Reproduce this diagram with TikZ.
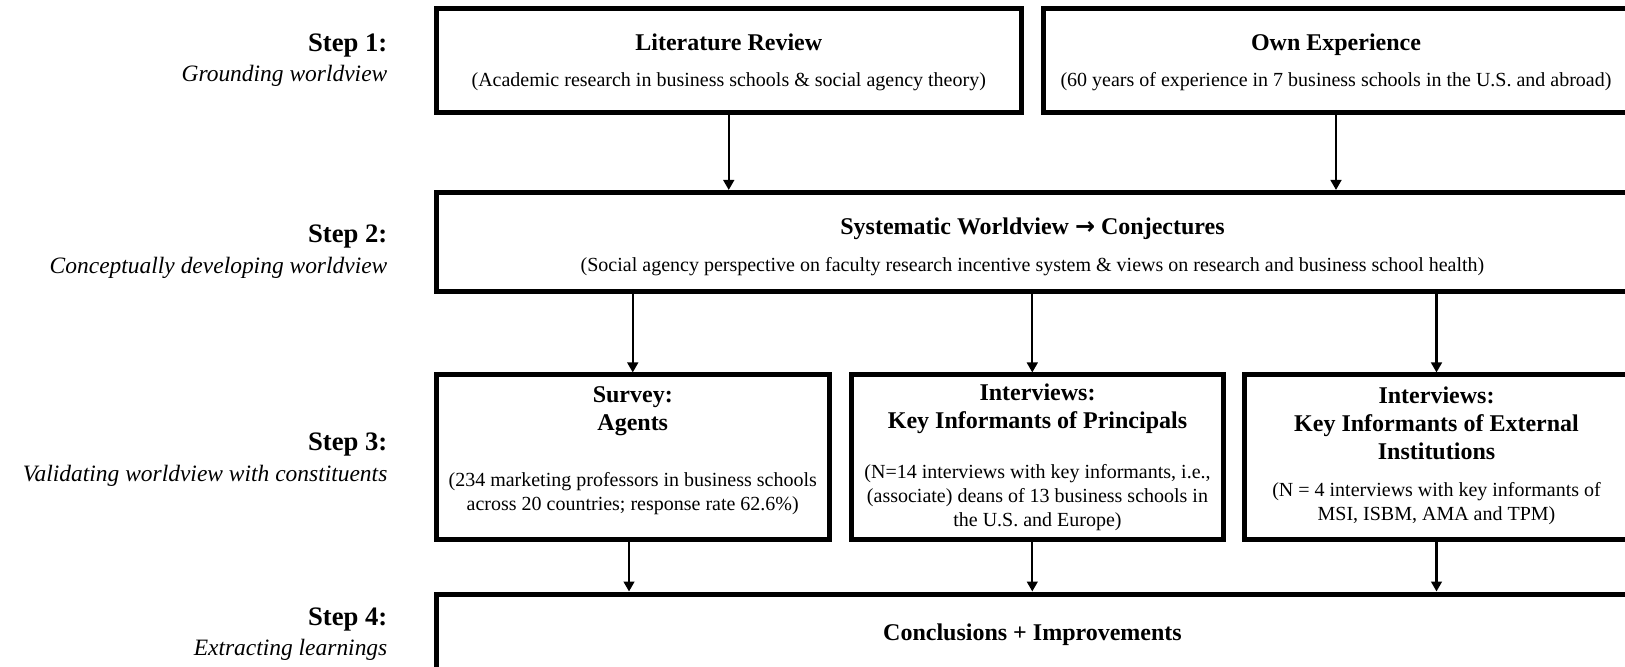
\documentclass[tikz,border=0pt]{standalone}
\usepackage{fontspec}
\setmainfont{Liberation Serif}
\newfontfamily\arrowfont{DejaVu Sans}
\usetikzlibrary{arrows.meta}
\tikzset{
  stepbox/.style={draw, line width=3.75pt, inner sep=0pt, rectangle},
  arr/.style={line width=1.75pt, -{Triangle[length=7.5pt,width=8pt]}},
  ttl/.style={inner sep=0pt, align=center, font={\fontsize{18}{21}\selectfont\bfseries}},
  sub/.style={inner sep=0pt, align=center, font={\fontsize{15}{18}\selectfont}},
  steplbl/.style={inner sep=0pt, anchor=east, font={\fontsize{20}{24}\selectfont\bfseries}},
  stepdesc/.style={inner sep=0pt, anchor=east, font={\fontsize{17.6}{21}\selectfont\itshape}},
}
\begin{document}
\begin{tikzpicture}[x=0.75pt,y=-0.75pt]
\useasboundingbox (0,0) rectangle (1625,667);
\clip (0,0) rectangle (1625,667);
\fill[white] (0,0) rectangle (1625,667);

% step labels
\node[steplbl]  (s1)  at (387.6,45.6)  {Step 1:};
\node[stepdesc] (s1d) at (387.6,75.6)  {Grounding worldview};
\node[steplbl]  (s2)  at (387.6,236.3) {Step 2:};
\node[stepdesc] (s2d) at (387.6,267.4) {Conceptually developing worldview};
\node[steplbl]  (s3)  at (387.6,444.6) {Step 3:};
\node[stepdesc] (s3d) at (387.6,475.7) {Validating worldview with constituents};
\node[steplbl]  (s4)  at (387.6,619.7) {Step 4:};
\node[stepdesc] (s4d) at (387.6,649.8) {Extracting learnings};

% boxes
\node[stepbox, minimum width=438.4pt, minimum height=77.5pt]  (lit)  at (728.75,60.35) {};
\node[stepbox, minimum width=438.75pt, minimum height=77.5pt] (own)  at (1336,60.35) {};
\node[stepbox, minimum width=894pt, minimum height=73.9pt]    (sys)  at (1032.5,241.75) {};
\node[stepbox, minimum width=294.4pt, minimum height=123.4pt] (sur)  at (632.75,457.25) {};
\node[stepbox, minimum width=279pt, minimum height=123.4pt]   (prin) at (1037.5,457.25) {};
\node[stepbox, minimum width=288pt, minimum height=123.4pt]   (ext)  at (1436.5,457.25) {};
\node[stepbox, minimum width=894pt, minimum height=79.5pt]    (con)  at (1032.5,647) {};

% texts
\node[ttl] (litT) at (728.75,42.5) {Literature Review};
\node[sub] (litS) at (728.75,81.8) {(Academic research in business schools \& social agency theory)};
\node[ttl] (ownT) at (1336,44.5) {Own Experience};
\node[sub] (ownS) at (1336,81.8) {(60 years of experience in 7 business schools in the U.S. and abroad)};
\node[ttl] (sysT) at (1032.5,229) {Systematic Worldview {\arrowfont\bfseries →} Conjectures};
\node[sub] (sysS) at (1032.5,266.3) {(Social agency perspective on faculty research incentive system \& views on research and business school health)};
\node[ttl] (surT) at (632.75,411) {Survey:\\Agents};
\node[sub] (surS) at (632.75,493.3) {(234 marketing professors in business schools\\across 20 countries; response rate 62.6\%)};
\node[ttl] (prinT) at (1037.5,409) {Interviews:\\Key Informants of Principals};
\node[sub] (prinS) at (1037.5,498) {(N=14 interviews with key informants, i.e.,\\(associate) deans of 13 business schools in\\the U.S. and Europe)};
\node[ttl] (extT) at (1436.5,423.4) {Interviews:\\Key Informants of External\\Institutions};
\node[sub] (extS) at (1436.5,503.7) {(N = 4 interviews with key informants of\\MSI, ISBM, AMA and TPM)};
\node[ttl] (conT) at (1032.5,635.2) {Conclusions + Improvements};

% connectors
\draw[arr] (lit.south) -- (lit.south |- sys.north);
\draw[arr] (own.south) -- (own.south |- sys.north);
\draw[arr] (sys.south -| sur.north) -- (sur.north);
\draw[arr] ([xshift=-3.9pt]sys.south -| prin.north) -- ([xshift=-3.9pt]prin.north);
\draw[arr] (sys.south -| ext.north) -- (ext.north);
\draw[arr] ([xshift=-2.8pt]sur.south) -- ([xshift=-2.8pt]sur.south |- con.north);
\draw[arr] ([xshift=-3.9pt]prin.south) -- ([xshift=-3.9pt]prin.south |- con.north);
\draw[arr] (ext.south) -- (ext.south |- con.north);
\end{tikzpicture}
\end{document}
